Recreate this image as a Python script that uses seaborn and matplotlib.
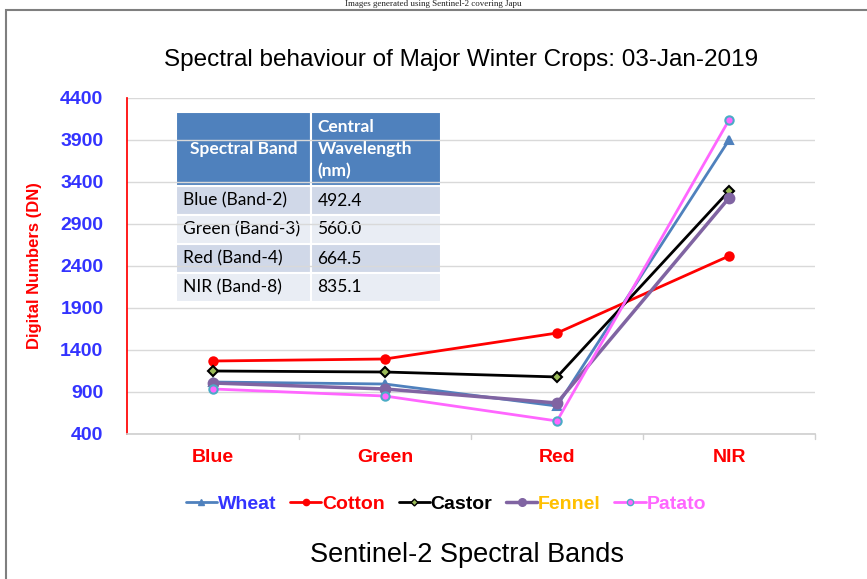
import pandas as pd
import matplotlib.pyplot as plt
import seaborn as sns
from matplotlib.lines import Line2D
from matplotlib.patches import Rectangle

# --- data ---
bands = ["Blue", "Green", "Red", "NIR"]
crops = ["Wheat", "Cotton", "Castor", "Fennel", "Patato"]
wheat = [1019, 995, 733, 3900]
cotton = [1269, 1293, 1602, 2519]
castor = [1150, 1138, 1079, 3293]
fennel = [1007, 936, 769, 3210]
patato = [936, 852, 555, 4138]
y_ticks = [400, 900, 1400, 1900, 2400, 2900, 3400, 3900, 4400]

table_header = ["Spectral Band", "Central\nWavelength\n(nm)"]
table_bands = ["Blue (Band-2)", "Green (Band-3)", "Red (Band-4)", "NIR (Band-8)"]
table_wavelengths = ["492.4", "560.0", "664.5", "835.1"]

df = pd.DataFrame({"Wheat": wheat, "Cotton": cotton, "Castor": castor,
                   "Fennel": fennel, "Patato": patato}, index=bands)
long_df = df.reset_index(names="band").melt(id_vars="band", var_name="crop", value_name="dn")

sns.set_theme(style="white")
plt.rcParams['font.family'] = ['Liberation Sans', 'DejaVu Sans']

# line style per crop: colour, marker, marker face, marker edge, line width
styles = {
    "Wheat":  dict(color="#4f81bd", marker="^", mfc="#4f81bd", mec="#4f81bd", lw=2, ms=6),
    "Cotton": dict(color="#ff0000", marker="o", mfc="#ff0000", mec="#ff0000", lw=2, ms=6),
    "Castor": dict(color="#000000", marker="D", mfc="#9bbb59", mec="#000000", lw=2, ms=5),
    "Fennel": dict(color="#8064a2", marker="o", mfc="#8064a2", mec="#8064a2", lw=2.5, ms=7),
    "Patato": dict(color="#ff66ff", marker="o", mfc="#ff66ff", mec="#4bacc6", lw=2, ms=6),
}
text_colors = {"Wheat": "#3333ff", "Cotton": "#ff0000", "Castor": "#000000",
               "Fennel": "#ffc000", "Patato": "#ff66ff"}

fig = plt.figure(figsize=(8.67, 5.79), dpi=100)
ax = fig.add_axes([127 / 867, 1 - 434 / 579, 688 / 867, 336 / 579])

for crop in crops:
    st = styles[crop]
    sub = long_df[long_df["crop"] == crop]
    sns.lineplot(data=sub, x="band", y="dn", ax=ax, color=st["color"], linewidth=st["lw"],
                 marker=st["marker"], markersize=st["ms"], markerfacecolor=st["mfc"],
                 markeredgecolor=st["mec"], markeredgewidth=1.5, sort=False, legend=False)

ax.set_xlim(-0.5, 3.5)
ax.set_ylim(400, 4400)
ax.set_yticks(y_ticks)
ax.set_yticklabels([str(v) for v in y_ticks], color="#3333ff", fontsize=14, fontweight="bold")
ax.set_xticks(range(len(bands)))
ax.set_xticklabels(bands, color="#ff0000", fontsize=14, fontweight="bold")
ax.tick_params(axis="x", length=0, pad=11)
ax.tick_params(axis="y", length=4, direction="in", color="#ff0000", pad=17)
for xb in [0.5, 1.5, 2.5, 3.5]:
    ax.plot([xb, xb], [400, 340], color="#d0d0d0", lw=1, clip_on=False)
ax.grid(axis="y", color="#d9d9d9", lw=1)
ax.set_axisbelow(True)
for side in ["top", "right"]:
    ax.spines[side].set_visible(False)
ax.spines["left"].set_color("#ff0000")
ax.spines["bottom"].set_color("#d0d0d0")
ax.set_xlabel("")
ax.set_ylabel("Digital Numbers (DN)", color="#ff0000", fontsize=12, fontweight="bold", labelpad=13)

fig.text(461 / 867, 1 - 60 / 579, "Spectral behaviour of Major Winter Crops: 03-Jan-2019",
         ha="center", va="center", fontsize=17.5, color="black")
fig.text(467 / 867, 1 - 555 / 579, "Sentinel-2 Spectral Bands",
         ha="center", va="center", fontsize=19.5, color="black")

# caption line above the frame (cut off in the source image)
fig.text(0.5, 1.0, "Images generated using Sentinel-2 covering Japu",
         ha="center", va="top", fontsize=6.5, family="Liberation Serif", color="#222222")

# outer frame
fig.patches.append(Rectangle((6 / 867, -0.02), 1.0, 1 - 10 / 579 + 0.02,
                             transform=fig.transFigure, fill=False,
                             edgecolor="#7f7f7f", lw=1.5))

# legend
handles = []
for crop in crops:
    st = styles[crop]
    handles.append(Line2D([], [], color=st["color"], lw=st["lw"], marker=st["marker"],
                          markersize=st["ms"] - 1.5, markerfacecolor=st["mfc"],
                          markeredgecolor=st["mec"]))
leg = fig.legend(handles, crops, loc="center", bbox_to_anchor=(446 / 867, 1 - 504 / 579),
                 ncol=5, frameon=False, handlelength=1.6, handletextpad=0.05,
                 columnspacing=0.7, prop=dict(size=14, weight="bold"))
for txt, crop in zip(leg.get_texts(), crops):
    txt.set_color(text_colors[crop])

# band table
cells = [[b, w] for b, w in zip(table_bands, table_wavelengths)]
tb = ax.table(cellText=cells, colLabels=table_header, cellLoc="left", colLoc="left",
              bbox=[(176 - 127) / 688, (434 - 302) / 336, 265 / 688, 190 / 336])
tb.auto_set_font_size(False)
row_fill = ["#d0d8e8", "#e9edf4"]
for (r, c), cell in tb.get_celld().items():
    cell.set_edgecolor("white")
    cell.set_linewidth(1.5)
    cell.set_width(135 if c == 0 else 130)
    cell.set_height(74 if r == 0 else 29)
    cell.PAD = 0.1 if (r == 0 and c == 0) else 0.05
    t = cell.get_text()
    t.set_fontfamily(["Lato", "DejaVu Sans"])
    t.set_fontsize(12.5)
    if r == 0:
        cell.set_facecolor("#4f81bd")
        t.set_color("white")
        t.set_fontweight("bold")
        t.set_linespacing(1.45)
    else:
        cell.set_facecolor(row_fill[(r - 1) % 2])
        t.set_color("black")

fig.savefig("out.png", dpi=100)
